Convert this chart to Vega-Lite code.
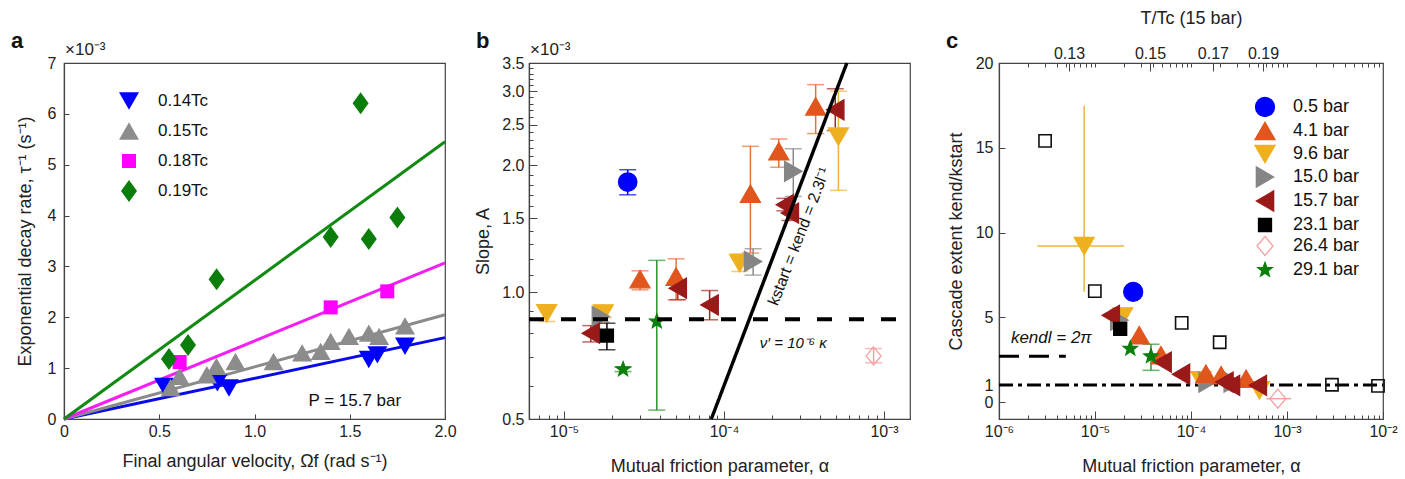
{
  "$schema": "https://vega.github.io/schema/vega-lite/v6.json",
  "padding": {"left": 10, "top": 8, "right": 0, "bottom": 0},
  "background": "white",
  "config": {
    "view": {"stroke": "#444", "strokeWidth": 1.2},
    "font": "Liberation Sans",
    "axis": {"grid": false, "labelFont": "Liberation Sans", "titleFont": "Liberation Sans", "labelFontSize": 16, "titleFontSize": 18, "titleFontWeight": "normal", "labelColor": "#222", "titleColor": "#222", "domainColor": "#444", "tickColor": "#444", "domainWidth": 1.2, "tickWidth": 1, "labelFlush": false, "labelOverlap": false},
    "legend": {"labelFont": "Liberation Sans", "labelColor": "#111"},
    "title": {"font": "Liberation Sans"}
  },
  "datasets": {
    "aPts": [
      {"s": "0.14Tc", "x": 0.525, "y": 0.64}, {"s": "0.14Tc", "x": 0.805, "y": 0.71}, {"s": "0.14Tc", "x": 0.866, "y": 0.61},
      {"s": "0.14Tc", "x": 1.6, "y": 1.17}, {"s": "0.14Tc", "x": 1.645, "y": 1.26}, {"s": "0.14Tc", "x": 1.79, "y": 1.43},
      {"s": "0.15Tc", "x": 0.56, "y": 0.62}, {"s": "0.15Tc", "x": 0.607, "y": 0.84}, {"s": "0.15Tc", "x": 0.75, "y": 0.87},
      {"s": "0.15Tc", "x": 0.8, "y": 1.035}, {"s": "0.15Tc", "x": 0.9, "y": 1.13}, {"s": "0.15Tc", "x": 1.1, "y": 1.13},
      {"s": "0.15Tc", "x": 1.25, "y": 1.3}, {"s": "0.15Tc", "x": 1.347, "y": 1.33}, {"s": "0.15Tc", "x": 1.4, "y": 1.527},
      {"s": "0.15Tc", "x": 1.496, "y": 1.625}, {"s": "0.15Tc", "x": 1.6, "y": 1.69}, {"s": "0.15Tc", "x": 1.654, "y": 1.625},
      {"s": "0.15Tc", "x": 1.79, "y": 1.83},
      {"s": "0.18Tc", "x": 0.607, "y": 1.12}, {"s": "0.18Tc", "x": 1.4, "y": 2.195}, {"s": "0.18Tc", "x": 1.697, "y": 2.51},
      {"s": "0.19Tc", "x": 0.551, "y": 1.18}, {"s": "0.19Tc", "x": 0.651, "y": 1.455}, {"s": "0.19Tc", "x": 0.801, "y": 2.75},
      {"s": "0.19Tc", "x": 1.4, "y": 3.58}, {"s": "0.19Tc", "x": 1.557, "y": 6.21}, {"s": "0.19Tc", "x": 1.6, "y": 3.54},
      {"s": "0.19Tc", "x": 1.75, "y": 3.96}
    ],
    "aFit": [
      {"s": "0.14Tc", "x": 0, "y": 0}, {"s": "0.14Tc", "x": 2, "y": 1.6},
      {"s": "0.15Tc", "x": 0, "y": 0}, {"s": "0.15Tc", "x": 2, "y": 2.05},
      {"s": "0.18Tc", "x": 0, "y": 0}, {"s": "0.18Tc", "x": 2, "y": 3.07},
      {"s": "0.19Tc", "x": 0, "y": 0}, {"s": "0.19Tc", "x": 2, "y": 5.45}
    ],
    "aNote": [{"x": 1.77, "y": 0.35, "t": "P = 15.7 bar"}],
    "aExp": [{"x": 0, "y": 7, "t": "×10⁻³"}],
    "bPts": [
      {"p": "0.5 bar", "alpha": 2.5e-5, "y": 1.826, "lo": 1.703, "hi": 1.953},
      {"p": "4.1 bar", "alpha": 2.985e-5, "y": 1.074, "lo": 1.013, "hi": 1.124},
      {"p": "4.1 bar", "alpha": 5.02e-5, "y": 1.089, "lo": 0.959, "hi": 1.2},
      {"p": "4.1 bar", "alpha": 1.462e-4, "y": 1.713, "lo": 1.238, "hi": 2.22},
      {"p": "4.1 bar", "alpha": 2.2e-4, "y": 2.16, "lo": 1.98, "hi": 2.31},
      {"p": "4.1 bar", "alpha": 3.74e-4, "y": 2.76, "lo": 2.38, "hi": 3.11},
      {"p": "9.6 bar", "alpha": 7.79e-6, "y": 0.891, "lo": 0.852, "hi": 0.93},
      {"p": "9.6 bar", "alpha": 1.758e-5, "y": 0.89, "lo": 0.87, "hi": 0.92},
      {"p": "9.6 bar", "alpha": 1.253e-4, "y": 1.172, "lo": 1.12, "hi": 1.231},
      {"p": "9.6 bar", "alpha": 5.19e-4, "y": 2.34, "lo": 1.745, "hi": 3.0},
      {"p": "15.0 bar", "alpha": 1.7e-5, "y": 0.875, "lo": 0.85, "hi": 0.9},
      {"p": "15.0 bar", "alpha": 1.52e-4, "y": 1.183, "lo": 1.098, "hi": 1.268},
      {"p": "15.0 bar", "alpha": 2.71e-4, "y": 1.936, "lo": 1.688, "hi": 2.19},
      {"p": "15.7 bar", "alpha": 1.47e-5, "y": 0.799, "lo": 0.762, "hi": 0.833},
      {"p": "15.7 bar", "alpha": 5.14e-5, "y": 1.022, "lo": 0.96, "hi": 1.06},
      {"p": "15.7 bar", "alpha": 8.13e-5, "y": 0.933, "lo": 0.86, "hi": 1.009},
      {"p": "15.7 bar", "alpha": 2.4e-4, "y": 1.613, "lo": 1.56, "hi": 1.67},
      {"p": "15.7 bar", "alpha": 2.58e-4, "y": 1.541, "lo": 1.48, "hi": 1.6},
      {"p": "15.7 bar", "alpha": 4.96e-4, "y": 2.71, "lo": 2.42, "hi": 3.04},
      {"p": "23.1 bar", "alpha": 1.854e-5, "y": 0.789, "lo": 0.73, "hi": 0.844},
      {"p": "26.4 bar", "alpha": 8.61e-4, "y": 0.706, "lo": 0.68, "hi": 0.735},
      {"p": "29.1 bar", "alpha": 2.34e-5, "y": 0.656, "lo": 0.648, "hi": 0.664},
      {"p": "29.1 bar", "alpha": 3.8e-5, "y": 0.852, "lo": 0.525, "hi": 1.19}
    ],
    "bDash": [{"alpha": 6.04e-6, "y": 0.863}, {"alpha": 1.225e-3, "y": 0.863}],
    "bLine": [{"alpha": 8.33e-5, "y": 0.5}, {"alpha": 5.86e-4, "y": 3.5}],
    "bExp": [{"alpha": 6.04e-6, "y": 3.5, "t": "×10⁻³"}],
    "bNu": [{"alpha": 2.71e-4, "y": 0.757, "t": "ν′ = 10⁻⁶ κ"}],
    "bK": [{"alpha": 2.95e-4, "y": 1.356, "t": "kstart = kend = 2.3l⁻¹"}],
    "cPts": [
      {"p": "0.5 bar", "alpha": 2.5e-5, "y": 6.5},
      {"p": "9.6 bar", "alpha": 7.71e-6, "y": 9.2},
      {"p": "9.6 bar", "alpha": 1.94e-5, "y": 5.05},
      {"p": "9.6 bar", "alpha": 1.27e-4, "y": 1.28},
      {"p": "9.6 bar", "alpha": 5.17e-4, "y": 0.69},
      {"p": "15.0 bar", "alpha": 1.79e-5, "y": 4.83},
      {"p": "15.0 bar", "alpha": 1.49e-4, "y": 1.18},
      {"p": "15.0 bar", "alpha": 2.72e-4, "y": 1.18},
      {"p": "4.1 bar", "alpha": 2.89e-5, "y": 3.94},
      {"p": "4.1 bar", "alpha": 4.86e-5, "y": 2.76},
      {"p": "4.1 bar", "alpha": 1.43e-4, "y": 1.67},
      {"p": "4.1 bar", "alpha": 2.06e-4, "y": 1.58},
      {"p": "4.1 bar", "alpha": 3.75e-4, "y": 1.38},
      {"p": "15.7 bar", "alpha": 1.46e-5, "y": 5.12},
      {"p": "15.7 bar", "alpha": 5.06e-5, "y": 2.36},
      {"p": "15.7 bar", "alpha": 7.87e-5, "y": 1.64},
      {"p": "15.7 bar", "alpha": 2.23e-4, "y": 1.18},
      {"p": "15.7 bar", "alpha": 2.61e-4, "y": 0.99},
      {"p": "15.7 bar", "alpha": 4.97e-4, "y": 0.99},
      {"p": "23.1 bar", "alpha": 1.83e-5, "y": 4.32},
      {"p": "26.4 bar", "alpha": 8.02e-4, "y": 0.2},
      {"p": "29.1 bar", "alpha": 2.33e-5, "y": 3.15},
      {"p": "29.1 bar", "alpha": 3.83e-5, "y": 2.7}
    ],
    "cSq": [
      {"alpha": 3.02e-6, "y": 15.41}, {"alpha": 9.96e-6, "y": 6.54}, {"alpha": 8.0e-5, "y": 4.67},
      {"alpha": 1.99e-4, "y": 3.53}, {"alpha": 2.94e-3, "y": 1.02}, {"alpha": 8.87e-3, "y": 0.95}
    ],
    "cVErr": [
      {"p": "9.6 bar", "alpha": 7.71e-6, "lo": 6.5, "hi": 17.48},
      {"p": "29.1 bar", "alpha": 3.83e-5, "lo": 1.87, "hi": 3.41}
    ],
    "cHErr": [
      {"p": "9.6 bar", "y": 9.2, "lo": 2.51e-6, "hi": 2.01e-5},
      {"p": "26.4 bar", "y": 0.2, "lo": 6.07e-4, "hi": 1.1e-3}
    ],
    "cCaps": [
      {"p": "29.1 bar", "alpha": 3.83e-5, "y": 1.87},
      {"p": "29.1 bar", "alpha": 3.83e-5, "y": 3.41}
    ],
    "cOne": [{"alpha": 1e-6, "y": 1}, {"alpha": 1e-2, "y": 1}],
    "cKl": [{"alpha": 1e-6, "y": 2.7}, {"alpha": 4.97e-6, "y": 2.7}],
    "cKlText": [{"alpha": 1.33e-6, "y": 3.76, "t": "kendl = 2π"}]
  },
  "spacing": 84,
  "bounds": "flush",
  "resolve": {"scale": {"color": "independent", "shape": "independent", "size": "independent", "fill": "independent", "stroke": "independent"}, "legend": {"color": "independent", "shape": "independent", "size": "independent", "fill": "independent", "stroke": "independent"}},
  "hconcat": [
    {
      "width": 381,
      "height": 356,
      "title": {"text": "a", "anchor": "start", "frame": "group", "dx": -53, "dy": 18, "fontSize": 22, "fontWeight": "bold", "offset": 6, "color": "#111"},
      "layer": [
        {
          "data": {"name": "aFit"},
          "mark": {"type": "line", "strokeWidth": 3},
          "encoding": {
            "x": {"field": "x", "type": "quantitative", "scale": {"domain": [0, 2], "nice": false, "zero": false},
              "axis": {"values": [0, 0.5, 1, 1.5, 2], "labelExpr": "datum.value == 0 ? '0' : format(datum.value, '.1f')", "tickSize": -5, "labelPadding": 9, "title": "Final angular velocity, Ωf (rad s⁻¹)", "titlePadding": 13}},
            "y": {"field": "y", "type": "quantitative", "scale": {"domain": [0, 7], "nice": false, "zero": false},
              "axis": {"values": [0, 1, 2, 3, 4, 5, 6, 7], "format": "d", "tickSize": -5, "labelPadding": 13, "title": "Exponential decay rate, τ⁻¹ (s⁻¹)", "titlePadding": 13}},
            "stroke": {"field": "s", "type": "nominal", "scale": {"domain": ["0.19Tc", "0.18Tc", "0.15Tc", "0.14Tc"], "range": ["#108a10", "#f51ef5", "#8a8a8a", "#0a0ae6"]}, "legend": null}
          }
        },
        {
          "data": {"name": "aPts"},
          "mark": {"type": "point", "opacity": 1, "strokeWidth": 0, "size": 400},
          "encoding": {
            "x": {"field": "x", "type": "quantitative", "scale": {"domain": [0, 2], "nice": false, "zero": false}},
            "y": {"field": "y", "type": "quantitative", "scale": {"domain": [0, 7], "nice": false, "zero": false}},
            "fill": {"field": "s", "type": "nominal", "scale": {"domain": ["0.14Tc", "0.15Tc", "0.18Tc", "0.19Tc"], "range": ["#0000ff", "#8c8c8c", "#ff00ff", "#0b7d0b"]},
              "legend": {"orient": "none", "legendX": 55, "legendY": 28, "title": null, "labelFontSize": 17, "rowPadding": 11, "labelOffset": 19, "symbolSize": 400, "symbolStrokeWidth": 0}},
            "shape": {"field": "s", "type": "nominal", "scale": {"domain": ["0.14Tc", "0.15Tc", "0.18Tc", "0.19Tc"], "range": ["triangle-down", "triangle-up", "M-0.7,-0.7L0.7,-0.7L0.7,0.7L-0.7,0.7Z", "M0,-1.1L0.8,0L0,1.1L-0.8,0Z"]},
              "legend": {"orient": "none", "legendX": 55, "legendY": 28, "title": null, "labelFontSize": 17, "rowPadding": 11, "labelOffset": 19, "symbolSize": 400, "symbolStrokeWidth": 0}}
          }
        },
        {
          "data": {"name": "aNote"},
          "mark": {"type": "text", "align": "right", "baseline": "middle", "fontSize": 17, "color": "#111"},
          "encoding": {
            "x": {"field": "x", "type": "quantitative", "scale": {"domain": [0, 2], "nice": false, "zero": false}},
            "y": {"field": "y", "type": "quantitative", "scale": {"domain": [0, 7], "nice": false, "zero": false}},
            "text": {"field": "t"}
          }
        },
        {
          "data": {"name": "aExp"},
          "mark": {"type": "text", "align": "left", "baseline": "bottom", "dy": -4, "dx": 1, "fontSize": 17, "color": "#222"},
          "encoding": {
            "x": {"field": "x", "type": "quantitative", "scale": {"domain": [0, 2], "nice": false, "zero": false}},
            "y": {"field": "y", "type": "quantitative", "scale": {"domain": [0, 7], "nice": false, "zero": false}},
            "text": {"field": "t"}
          }
        }
      ]
    },
    {
      "spacing": 89,
      "bounds": "flush",
      "resolve": {"scale": {"color": "independent", "shape": "independent", "size": "independent", "fill": "independent", "stroke": "independent"}, "legend": {"color": "independent", "shape": "independent", "size": "independent", "fill": "independent", "stroke": "independent"}},
      "hconcat": [
        {
          "width": 381,
          "height": 356,
          "title": {"text": "b", "anchor": "start", "frame": "group", "dx": -53, "dy": 18, "fontSize": 22, "fontWeight": "bold", "offset": 6, "color": "#111"},
          "layer": [
            {
              "data": {"name": "bPts"},
              "mark": {"type": "rule", "strokeWidth": 1.5},
              "encoding": {
                "x": {"field": "alpha", "type": "quantitative", "scale": {"type": "log", "domain": [6.04e-6, 1.454e-3], "nice": false}},
                "y": {"field": "lo", "type": "quantitative", "scale": {"type": "log", "domain": [0.5, 3.5], "nice": false}},
                "y2": {"field": "hi"},
                "color": {"field": "p", "type": "nominal", "scale": {"domain": ["0.5 bar", "4.1 bar", "9.6 bar", "15.0 bar", "15.7 bar", "23.1 bar", "26.4 bar", "29.1 bar"], "range": ["#0000ff", "#e8703c", "#efb33a", "#8a8a8a", "#a02828", "#000000", "#f4a0a0", "#2a962a"]}, "legend": null}
              }
            },
            {
              "data": {"name": "bPts"},
              "mark": {"type": "tick", "orient": "horizontal", "size": 17, "thickness": 1.5},
              "encoding": {
                "x": {"field": "alpha", "type": "quantitative", "scale": {"type": "log", "domain": [6.04e-6, 1.454e-3], "nice": false}},
                "y": {"field": "lo", "type": "quantitative", "scale": {"type": "log", "domain": [0.5, 3.5], "nice": false}},
                "color": {"field": "p", "type": "nominal", "scale": {"domain": ["0.5 bar", "4.1 bar", "9.6 bar", "15.0 bar", "15.7 bar", "23.1 bar", "26.4 bar", "29.1 bar"], "range": ["#0000ff", "#e8703c", "#efb33a", "#8a8a8a", "#a02828", "#000000", "#f4a0a0", "#2a962a"]}, "legend": null}
              }
            },
            {
              "data": {"name": "bPts"},
              "mark": {"type": "tick", "orient": "horizontal", "size": 17, "thickness": 1.5},
              "encoding": {
                "x": {"field": "alpha", "type": "quantitative", "scale": {"type": "log", "domain": [6.04e-6, 1.454e-3], "nice": false}},
                "y": {"field": "hi", "type": "quantitative", "scale": {"type": "log", "domain": [0.5, 3.5], "nice": false}},
                "color": {"field": "p", "type": "nominal", "scale": {"domain": ["0.5 bar", "4.1 bar", "9.6 bar", "15.0 bar", "15.7 bar", "23.1 bar", "26.4 bar", "29.1 bar"], "range": ["#0000ff", "#e8703c", "#efb33a", "#8a8a8a", "#a02828", "#000000", "#f4a0a0", "#2a962a"]}, "legend": null}
              }
            },
            {
              "data": {"name": "bPts"},
              "mark": {"type": "point", "opacity": 1, "strokeWidth": 1.3, "size": 400},
              "encoding": {
                "x": {"field": "alpha", "type": "quantitative", "scale": {"type": "log", "domain": [6.04e-6, 1.454e-3], "nice": false},
                  "axis": {"values": [7e-6, 8e-6, 9e-6, 1e-5, 2e-5, 3e-5, 4e-5, 5e-5, 6e-5, 7e-5, 8e-5, 9e-5, 1e-4, 2e-4, 3e-4, 4e-4, 5e-4, 6e-4, 7e-4, 8e-4, 9e-4, 1e-3],
                    "labelExpr": "abs(log(datum.value)/LN10 - round(log(datum.value)/LN10)) < 0.001 ? ['10⁻⁶','10⁻⁵','10⁻⁴','10⁻³','10⁻²'][round(log(datum.value)/LN10)+6] : ''",
                    "tickSize": {"condition": {"test": "abs(log(datum.value)/LN10 - round(log(datum.value)/LN10)) < 0.001", "value": -8}, "value": -4},
                    "labelPadding": 12, "title": "Mutual friction parameter, α", "titlePadding": 14}},
                "y": {"field": "y", "type": "quantitative", "scale": {"type": "log", "domain": [0.5, 3.5], "nice": false},
                  "axis": {"values": [0.5, 0.6, 0.7, 0.8, 0.9, 1.0, 1.1, 1.2, 1.3, 1.4, 1.5, 1.6, 1.7, 1.8, 1.9, 2.0, 2.1, 2.2, 2.3, 2.4, 2.5, 2.6, 2.7, 2.8, 2.9, 3.0, 3.1, 3.2, 3.3, 3.4, 3.5],
                    "labelExpr": "abs(datum.value*2 - round(datum.value*2)) < 0.01 ? format(datum.value, '.1f') : ''",
                    "tickSize": {"condition": {"test": "abs(datum.value*2 - round(datum.value*2)) < 0.01", "value": -8}, "value": -4},
                    "labelPadding": 13, "title": "Slope, A", "titlePadding": 9}},
                "fill": {"field": "p", "type": "nominal", "scale": {"domain": ["0.5 bar", "4.1 bar", "9.6 bar", "15.0 bar", "15.7 bar", "23.1 bar", "26.4 bar", "29.1 bar"], "range": ["#0000ff", "#e0561c", "#efb01f", "#858585", "#9a1a1a", "#000000", "transparent", "#0a7f0a"]}, "legend": null},
                "stroke": {"field": "p", "type": "nominal", "scale": {"domain": ["0.5 bar", "4.1 bar", "9.6 bar", "15.0 bar", "15.7 bar", "23.1 bar", "26.4 bar", "29.1 bar"], "range": ["#0000ff", "#e0561c", "#efb01f", "#858585", "#9a1a1a", "#000000", "#f4a0a0", "#0a7f0a"]}, "legend": null},
                "shape": {"field": "p", "type": "nominal", "scale": {"domain": ["0.5 bar", "4.1 bar", "9.6 bar", "15.0 bar", "15.7 bar", "23.1 bar", "26.4 bar", "29.1 bar"], "range": ["M0.92,0A0.92,0.92 0 1,1 -0.92,0A0.92,0.92 0 1,1 0.92,0Z", "triangle-up", "triangle-down", "triangle-right", "triangle-left", "M-0.65,-0.65L0.65,-0.65L0.65,0.65L-0.65,0.65Z", "M0,-0.9L0.75,0L0,0.9L-0.75,0Z", "M0,-0.75L0.185,-0.255L0.713,-0.232L0.299,0.098L0.441,0.607L0,0.315L-0.441,0.607L-0.299,0.098L-0.713,-0.232L-0.185,-0.255Z"]}, "legend": null}
              }
            },
            {
              "data": {"name": "bDash"},
              "mark": {"type": "line", "strokeWidth": 4, "strokeDash": [15, 17], "color": "#000"},
              "encoding": {
                "x": {"field": "alpha", "type": "quantitative", "scale": {"type": "log", "domain": [6.04e-6, 1.454e-3], "nice": false}},
                "y": {"field": "y", "type": "quantitative", "scale": {"type": "log", "domain": [0.5, 3.5], "nice": false}}
              }
            },
            {
              "data": {"name": "bLine"},
              "mark": {"type": "line", "strokeWidth": 3.5, "color": "#000"},
              "encoding": {
                "x": {"field": "alpha", "type": "quantitative", "scale": {"type": "log", "domain": [6.04e-6, 1.454e-3], "nice": false}},
                "y": {"field": "y", "type": "quantitative", "scale": {"type": "log", "domain": [0.5, 3.5], "nice": false}}
              }
            },
            {
              "data": {"name": "bExp"},
              "mark": {"type": "text", "align": "left", "baseline": "bottom", "dy": -4, "dx": 1, "fontSize": 17, "color": "#222"},
              "encoding": {
                "x": {"field": "alpha", "type": "quantitative", "scale": {"type": "log", "domain": [6.04e-6, 1.454e-3], "nice": false}},
                "y": {"field": "y", "type": "quantitative", "scale": {"type": "log", "domain": [0.5, 3.5], "nice": false}},
                "text": {"field": "t"}
              }
            },
            {
              "data": {"name": "bNu"},
              "mark": {"type": "text", "align": "center", "baseline": "middle", "fontSize": 15, "color": "#111", "fontStyle": "italic"},
              "encoding": {
                "x": {"field": "alpha", "type": "quantitative", "scale": {"type": "log", "domain": [6.04e-6, 1.454e-3], "nice": false}},
                "y": {"field": "y", "type": "quantitative", "scale": {"type": "log", "domain": [0.5, 3.5], "nice": false}},
                "text": {"field": "t"}
              }
            },
            {
              "data": {"name": "bK"},
              "mark": {"type": "text", "align": "center", "baseline": "middle", "fontSize": 16, "color": "#111", "angle": 291},
              "encoding": {
                "x": {"field": "alpha", "type": "quantitative", "scale": {"type": "log", "domain": [6.04e-6, 1.454e-3], "nice": false}},
                "y": {"field": "y", "type": "quantitative", "scale": {"type": "log", "domain": [0.5, 3.5], "nice": false}},
                "text": {"field": "t"}
              }
            }
          ]
        },
        {
          "width": 384,
          "height": 356,
          "title": {"text": "c", "anchor": "start", "frame": "group", "dx": -53, "dy": 50, "fontSize": 22, "fontWeight": "bold", "offset": 6, "color": "#111"},
          "resolve": {"axis": {"x": "independent"}},
          "layer": [
            {
              "data": {"name": "cKl"},
              "mark": {"type": "line", "strokeWidth": 3, "strokeDash": [20, 10], "color": "#000"},
              "encoding": {
                "x": {"field": "alpha", "type": "quantitative", "scale": {"type": "log", "domain": [1e-6, 1e-2], "nice": false}, "axis": null},
                "y": {"field": "y", "type": "quantitative", "scale": {"domain": [-1, 20], "nice": false, "zero": false}}
              }
            },
            {
              "data": {"name": "cOne"},
              "mark": {"type": "line", "strokeWidth": 3, "strokeDash": [14, 5, 4, 5], "color": "#000"},
              "encoding": {
                "x": {"field": "alpha", "type": "quantitative", "scale": {"type": "log", "domain": [1e-6, 1e-2], "nice": false},
                  "axis": {"orient": "top", "values": [2e-6, 3e-6, 4e-6, 5e-6, 6e-6, 7e-6, 8e-6, 9e-6, 1e-5, 2e-5, 3e-5, 4e-5, 5e-5, 6e-5, 7e-5, 8e-5, 9e-5, 1e-4, 2e-4, 3e-4, 4e-4, 5e-4, 6e-4, 7e-4, 8e-4, 9e-4, 1e-3, 2e-3, 3e-3, 4e-3, 5e-3, 6e-3, 7e-3, 8e-3, 9e-3, 5.36e-6, 3.74e-5, 1.69e-4, 5.62e-4],
                    "labelExpr": "datum.value == 5.36e-6 ? '0.13' : datum.value == 3.74e-5 ? '0.15' : datum.value == 1.69e-4 ? '0.17' : datum.value == 5.62e-4 ? '0.19' : ''",
                    "tickSize": {"condition": {"test": "datum.value == 5.36e-6 || datum.value == 3.74e-5 || datum.value == 1.69e-4 || datum.value == 5.62e-4", "value": -8}, "value": -4},
                    "labelPadding": 10, "title": "T/Tc (15 bar)", "titleFontSize": 18, "titlePadding": 14, "domain": false}},
                "y": {"field": "y", "type": "quantitative", "scale": {"domain": [-1, 20], "nice": false, "zero": false}}
              }
            },
            {
              "data": {"name": "cVErr"},
              "mark": {"type": "rule", "strokeWidth": 1.5},
              "encoding": {
                "x": {"field": "alpha", "type": "quantitative", "scale": {"type": "log", "domain": [1e-6, 1e-2], "nice": false}, "axis": null},
                "y": {"field": "lo", "type": "quantitative", "scale": {"domain": [-1, 20], "nice": false, "zero": false}},
                "y2": {"field": "hi"},
                "color": {"field": "p", "type": "nominal", "scale": {"domain": ["9.6 bar", "26.4 bar", "29.1 bar"], "range": ["#efb33a", "#f4a0a0", "#2a962a"]}, "legend": null}
              }
            },
            {
              "data": {"name": "cHErr"},
              "mark": {"type": "rule", "strokeWidth": 1.5},
              "encoding": {
                "x": {"field": "lo", "type": "quantitative", "scale": {"type": "log", "domain": [1e-6, 1e-2], "nice": false}, "axis": null},
                "x2": {"field": "hi"},
                "y": {"field": "y", "type": "quantitative", "scale": {"domain": [-1, 20], "nice": false, "zero": false}},
                "color": {"field": "p", "type": "nominal", "scale": {"domain": ["9.6 bar", "26.4 bar", "29.1 bar"], "range": ["#efb33a", "#f4a0a0", "#2a962a"]}, "legend": null}
              }
            },
            {
              "data": {"name": "cCaps"},
              "mark": {"type": "tick", "orient": "horizontal", "size": 17, "thickness": 1.5},
              "encoding": {
                "x": {"field": "alpha", "type": "quantitative", "scale": {"type": "log", "domain": [1e-6, 1e-2], "nice": false}, "axis": null},
                "y": {"field": "y", "type": "quantitative", "scale": {"domain": [-1, 20], "nice": false, "zero": false}},
                "color": {"field": "p", "type": "nominal", "scale": {"domain": ["9.6 bar", "26.4 bar", "29.1 bar"], "range": ["#efb33a", "#f4a0a0", "#2a962a"]}, "legend": null}
              }
            },
            {
              "data": {"name": "cSq"},
              "mark": {"type": "point", "shape": "square", "filled": false, "size": 150, "strokeWidth": 1.6, "color": "#111", "opacity": 1},
              "encoding": {
                "x": {"field": "alpha", "type": "quantitative", "scale": {"type": "log", "domain": [1e-6, 1e-2], "nice": false}, "axis": null},
                "y": {"field": "y", "type": "quantitative", "scale": {"domain": [-1, 20], "nice": false, "zero": false}}
              }
            },
            {
              "data": {"name": "cPts"},
              "mark": {"type": "point", "opacity": 1, "strokeWidth": 1.3, "size": 400},
              "encoding": {
                "x": {"field": "alpha", "type": "quantitative", "scale": {"type": "log", "domain": [1e-6, 1e-2], "nice": false},
                  "axis": {"orient": "bottom", "values": [1e-6, 2e-6, 3e-6, 4e-6, 5e-6, 6e-6, 7e-6, 8e-6, 9e-6, 1e-5, 2e-5, 3e-5, 4e-5, 5e-5, 6e-5, 7e-5, 8e-5, 9e-5, 1e-4, 2e-4, 3e-4, 4e-4, 5e-4, 6e-4, 7e-4, 8e-4, 9e-4, 1e-3, 2e-3, 3e-3, 4e-3, 5e-3, 6e-3, 7e-3, 8e-3, 9e-3, 1e-2],
                    "labelExpr": "abs(log(datum.value)/LN10 - round(log(datum.value)/LN10)) < 0.001 ? ['10⁻⁶','10⁻⁵','10⁻⁴','10⁻³','10⁻²'][round(log(datum.value)/LN10)+6] : ''",
                    "tickSize": {"condition": {"test": "abs(log(datum.value)/LN10 - round(log(datum.value)/LN10)) < 0.001", "value": -8}, "value": -4},
                    "labelPadding": 12, "title": "Mutual friction parameter, α", "titlePadding": 14}},
                "y": {"field": "y", "type": "quantitative", "scale": {"domain": [-1, 20], "nice": false, "zero": false},
                  "axis": {"values": [0, 1, 5, 10, 15, 20], "format": "d", "tickSize": -6, "labelPadding": 12, "title": "Cascade extent kend/kstart", "titlePadding": 10}},
                "fill": {"field": "p", "type": "nominal", "scale": {"domain": ["0.5 bar", "4.1 bar", "9.6 bar", "15.0 bar", "15.7 bar", "23.1 bar", "26.4 bar", "29.1 bar"], "range": ["#0000ff", "#e0561c", "#efb01f", "#858585", "#9a1a1a", "#000000", "transparent", "#0a7f0a"]},
                  "legend": {"orient": "none", "legendX": 255, "legendY": 33, "title": null, "labelFontSize": 18, "rowPadding": -2, "labelOffset": 17, "symbolSize": 400, "symbolStrokeWidth": 1.3}},
                "stroke": {"field": "p", "type": "nominal", "scale": {"domain": ["0.5 bar", "4.1 bar", "9.6 bar", "15.0 bar", "15.7 bar", "23.1 bar", "26.4 bar", "29.1 bar"], "range": ["#0000ff", "#e0561c", "#efb01f", "#858585", "#9a1a1a", "#000000", "#f4a0a0", "#0a7f0a"]},
                  "legend": {"orient": "none", "legendX": 255, "legendY": 33, "title": null, "labelFontSize": 18, "rowPadding": -2, "labelOffset": 17, "symbolSize": 400, "symbolStrokeWidth": 1.3}},
                "shape": {"field": "p", "type": "nominal", "scale": {"domain": ["0.5 bar", "4.1 bar", "9.6 bar", "15.0 bar", "15.7 bar", "23.1 bar", "26.4 bar", "29.1 bar"], "range": ["M0.95,0A0.95,0.95 0 1,1 -0.95,0A0.95,0.95 0 1,1 0.95,0Z", "triangle-up", "triangle-down", "triangle-right", "triangle-left", "M-0.65,-0.65L0.65,-0.65L0.65,0.65L-0.65,0.65Z", "M0,-0.95L0.8,0L0,0.95L-0.8,0Z", "M0,-0.75L0.185,-0.255L0.713,-0.232L0.299,0.098L0.441,0.607L0,0.315L-0.441,0.607L-0.299,0.098L-0.713,-0.232L-0.185,-0.255Z"]},
                  "legend": {"orient": "none", "legendX": 255, "legendY": 33, "title": null, "labelFontSize": 18, "rowPadding": -2, "labelOffset": 17, "symbolSize": 400, "symbolStrokeWidth": 1.3}}
              }
            },
            {
              "data": {"name": "cKlText"},
              "mark": {"type": "text", "align": "left", "baseline": "middle", "fontSize": 17, "fontStyle": "italic", "color": "#111"},
              "encoding": {
                "x": {"field": "alpha", "type": "quantitative", "scale": {"type": "log", "domain": [1e-6, 1e-2], "nice": false}, "axis": null},
                "y": {"field": "y", "type": "quantitative", "scale": {"domain": [-1, 20], "nice": false, "zero": false}},
                "text": {"field": "t"}
              }
            }
          ]
        }
      ]
    }
  ]
}
